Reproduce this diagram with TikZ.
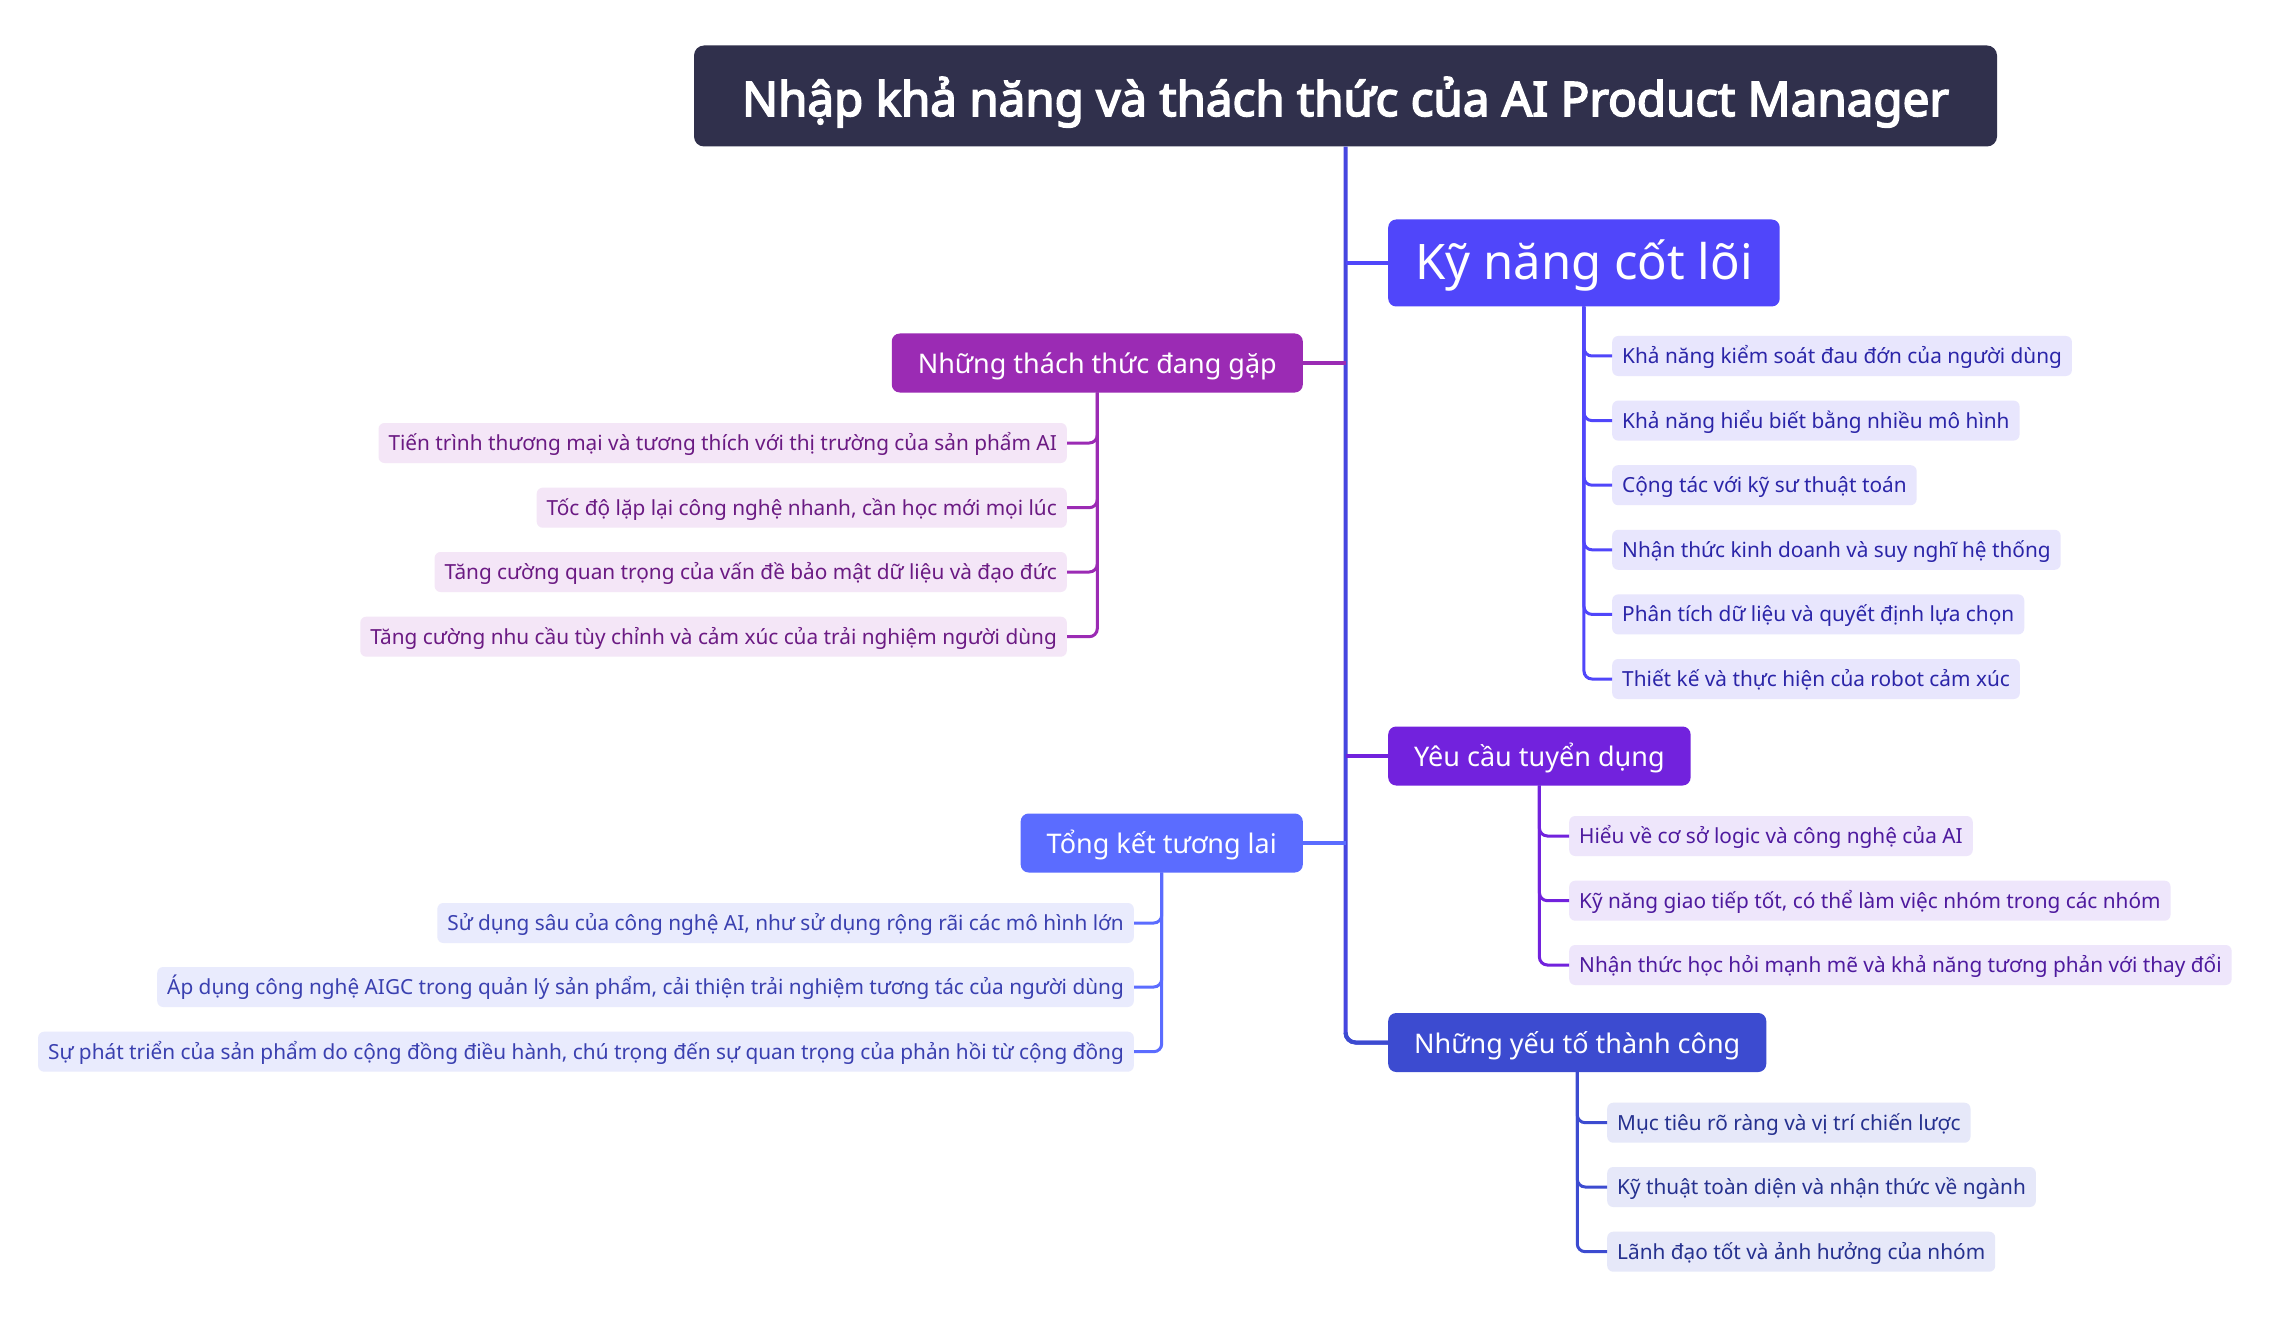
\documentclass[tikz,border=0pt]{standalone}
\usepackage{fontspec}
\setmainfont{Noto Sans}
\newfontfamily\titlefont{Noto Sans}[FakeBold=3.5]
\definecolor{titlec}{HTML}{30304C}
\definecolor{trunkc}{HTML}{4646E0}
\definecolor{c1}{HTML}{5046FA}
\definecolor{c1l}{HTML}{E8E6FD}
\definecolor{c1t}{HTML}{2B25A8}
\definecolor{c2}{HTML}{9B2BB4}
\definecolor{c2l}{HTML}{F4E6F7}
\definecolor{c2t}{HTML}{6B1A83}
\definecolor{c3}{HTML}{7222DD}
\definecolor{c3l}{HTML}{EEE6FB}
\definecolor{c3t}{HTML}{4E1A9E}
\definecolor{c4}{HTML}{5B6CFF}
\definecolor{c4l}{HTML}{E9EBFD}
\definecolor{c4t}{HTML}{3A40B0}
\definecolor{c5}{HTML}{3C4BD0}
\definecolor{c5l}{HTML}{E6E8F9}
\definecolor{c5t}{HTML}{26318F}
\begin{document}
\begin{tikzpicture}[x=1pt,y=-1pt,
  titlebox/.style={rounded corners=10pt, fill=titlec, text=white, minimum width=1303pt, minimum height=101pt, inner sep=0pt, text height=50pt, text depth=10pt, font=\titlefont\fontsize{47.5}{56}\selectfont},
  leaf/.style={rounded corners=6pt, inner xsep=10pt, inner ysep=0pt, minimum height=40pt, text height=20pt, text depth=5pt, font=\fontsize{20.8}{25}\selectfont},
  branch/.style={rounded corners=8pt, inner xsep=26pt, inner ysep=0pt, minimum height=59pt, text=white, text height=28pt, text depth=7pt, font=\fontsize{27}{32}\selectfont},
  bigbranch/.style={branch, inner xsep=27pt, minimum height=87pt, text height=46pt, text depth=12pt, font=\fontsize{49}{58}\selectfont},
  link/.style={line width=3pt, rounded corners=8pt},
  trunk/.style={line width=4pt, rounded corners=10pt},
  l1/.style={leaf, fill=c1l, text=c1t, anchor=west},
  l2/.style={leaf, fill=c2l, text=c2t, anchor=east},
  l3/.style={leaf, fill=c3l, text=c3t, anchor=west},
  l4/.style={leaf, fill=c4l, text=c4t, anchor=east},
  l5/.style={leaf, fill=c5l, text=c5t, anchor=west}
]
\useasboundingbox[fill=white] (0,0) rectangle (2271,1332);

\node[titlebox] (title) at (1345.5,96) {Nhập khả năng và thách thức của AI Product Manager};

% branches
\node[bigbranch, fill=c1, anchor=west] (k) at (1388,263) {Kỹ năng cốt lõi};
\node[branch, fill=c2, anchor=east] (t) at (1303,363) {Những thách thức đang gặp};
\node[branch, fill=c3, anchor=west] (y) at (1388,756) {Yêu cầu tuyển dụng};
\node[branch, fill=c4, anchor=east] (f) at (1303,843) {Tổng kết tương lai};
\node[branch, fill=c5, anchor=west] (s) at (1388,1042.5) {Những yếu tố thành công};

% trunk and branch connectors
\draw[trunk, color=trunkc] (title.south) |- (s.west);
\draw[trunk, color=c5] (title.south |- s.west) ++(0,-10) |- (s.west);
\draw[trunk, color=c1] (title.south |- k.west) -- (k.west);
\draw[trunk, color=c2] (title.south |- t.east) -- (t.east);
\draw[trunk, color=c3] (title.south |- y.west) -- (y.west);
\draw[trunk, color=c4] (title.south |- f.east) -- (f.east);

% Kỹ năng cốt lõi leaves
\node[l1] (k1) at (1612,356) {Khả năng kiểm soát đau đớn của người dùng};
\node[l1] (k2) at (1612,420.6) {Khả năng hiểu biết bằng nhiều mô hình};
\node[l1] (k3) at (1612,485.2) {Cộng tác với kỹ sư thuật toán};
\node[l1] (k4) at (1612,549.8) {Nhận thức kinh doanh và suy nghĩ hệ thống};
\node[l1] (k5) at (1612,614.4) {Phân tích dữ liệu và quyết định lựa chọn};
\node[l1] (k6) at (1612,679) {Thiết kế và thực hiện của robot cảm xúc};
\foreach \i in {1,...,6} \draw[link, color=c1] (k.south) |- (k\i.west);

% Những thách thức leaves
\node[l2] (t1) at (1067,443) {Tiến trình thương mại và tương thích với thị trường của sản phẩm AI};
\node[l2] (t2) at (1067,507.7) {Tốc độ lặp lại công nghệ nhanh, cần học mới mọi lúc};
\node[l2] (t3) at (1067,572) {Tăng cường quan trọng của vấn đề bảo mật dữ liệu và đạo đức};
\node[l2] (t4) at (1067,636.7) {Tăng cường nhu cầu tùy chỉnh và cảm xúc của trải nghiệm người dùng};
\foreach \i in {1,...,4} \draw[link, color=c2] (t.south) |- (t\i.east);

% Yêu cầu tuyển dụng leaves
\node[l3] (y1) at (1569,836) {Hiểu về cơ sở logic và công nghệ của AI};
\node[l3] (y2) at (1569,900.7) {Kỹ năng giao tiếp tốt, có thể làm việc nhóm trong các nhóm};
\node[l3] (y3) at (1569,965) {Nhận thức học hỏi mạnh mẽ và khả năng tương phản với thay đổi};
\foreach \i in {1,...,3} \draw[link, color=c3] (y.south) |- (y\i.west);

% Tổng kết tương lai leaves
\node[l4] (f1) at (1134,923) {Sử dụng sâu của công nghệ AI, như sử dụng rộng rãi các mô hình lớn};
\node[l4] (f2) at (1134,987) {Áp dụng công nghệ AIGC trong quản lý sản phẩm, cải thiện trải nghiệm tương tác của người dùng};
\node[l4] (f3) at (1134,1051.7) {Sự phát triển của sản phẩm do cộng đồng điều hành, chú trọng đến sự quan trọng của phản hồi từ cộng đồng};
\foreach \i in {1,...,3} \draw[link, color=c4] (f.south) |- (f\i.east);

% Những yếu tố thành công leaves
\node[l5] (s1) at (1607,1122.7) {Mục tiêu rõ ràng và vị trí chiến lược};
\node[l5] (s2) at (1607,1187) {Kỹ thuật toàn diện và nhận thức về ngành};
\node[l5] (s3) at (1607,1251.7) {Lãnh đạo tốt và ảnh hưởng của nhóm};
\foreach \i in {1,...,3} \draw[link, color=c5] (s.south) |- (s\i.west);
\end{tikzpicture}
\end{document}
